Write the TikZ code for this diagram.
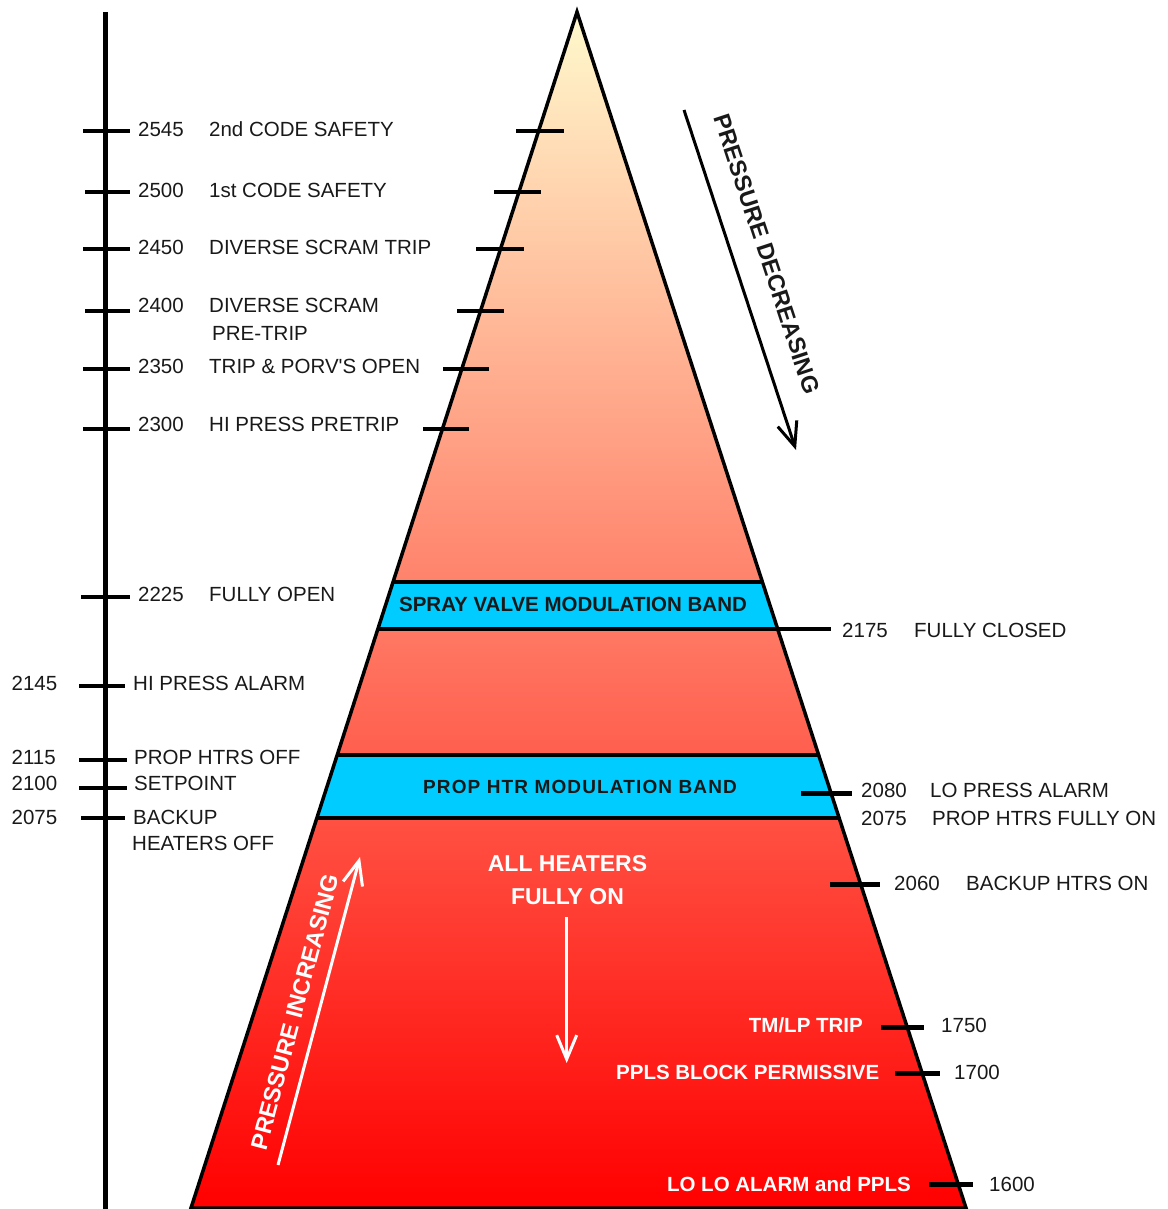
\documentclass[tikz,border=0pt]{standalone}
\usepackage{fontspec}
\setmainfont{Liberation Sans}[Ligatures=TeXOff]
\usetikzlibrary{arrows.meta,calc}

\definecolor{bandcyan}{RGB}{0,204,255}
\definecolor{paleyellow}{RGB}{255,249,205}
\definecolor{hotred}{RGB}{255,0,0}
\definecolor{ink}{RGB}{25,25,25}

\tikzset{
  lbl/.style={anchor=base west, inner sep=0pt, text=ink,
              font=\fontsize{20.5}{24}\selectfont},
  wlbl/.style={anchor=base east, inner sep=0pt, text=white,
               font=\bfseries\fontsize{20.5}{24}\selectfont},
  bandtext/.style={inner sep=0pt, text=ink,
                   font=\bfseries\fontsize{20.5}{24}\selectfont},
  axisline/.style={line width=5pt},
  ltick/.style={line width=4pt},
  rtick/.style={line width=5pt},
  bandline/.style={line width=4pt},
  edge/.style={line width=3.5pt, line join=miter},
  flowarrow/.style={line width=3pt,
                    -{Straight Barb[length=24pt,width=20pt,line width=3pt]}},
  slanttext/.style={inner sep=0pt, font=\bfseries\fontsize{23.5}{26}\selectfont},
}

\begin{document}
\begin{tikzpicture}[x=1pt,y=-1pt]
\useasboundingbox (0,0) rectangle (1167,1209);

% ---- pressure scale on the left
\coordinate (axtop) at (105,12);
\coordinate (axbot) at (105,1215);
\draw[axisline] (axtop) -- (axbot);

\foreach \yy/\xa in {131/83,192/85,249/83,311/85,369/83,429/83,597/81}
  \draw[ltick] (\xa,\yy) -- (130,\yy);
\foreach \yy/\xa/\xb in {686/79/125,760/79/127,788/79/127,818/81/125}
  \draw[ltick] (\xa,\yy) -- (\xb,\yy);

% ---- the pressure triangle
\coordinate (apex) at (577,12);
\coordinate (bl) at (191,1208);
\coordinate (br) at (966,1208);
\shade[top color=paleyellow, bottom color=hotred] (apex) -- (bl) -- (br) -- cycle;

% modulation bands
\fill[bandcyan] (393.0,582) -- (762.4,582) -- (777.7,629) -- (377.9,629) -- cycle;
\fill[bandcyan] (337.2,755) -- (818.7,755) -- (839.2,818) -- (316.9,818) -- cycle;
\draw[bandline] (393.0,582) -- (762.4,582);
\draw[bandline] (377.9,629) -- (831,629);
\draw[bandline] (337.2,755) -- (818.7,755);
\draw[bandline] (316.9,818) -- (839.2,818);

\draw[edge] (apex) -- (bl) -- (br) -- cycle;

% set points across the left flank
\foreach \yy/\xa/\xb in {131/516/564,192/494/541,249/476/524,311/457/504,369/443/489,429/423/469}
  \draw[ltick] (\xa,\yy) -- (\xb,\yy);
% set points across the right flank
\foreach \yy/\xa/\xb in {793/801/852,884/830/880,1027/881/924,1073/895/940,1184/929/973}
  \draw[rtick] (\xa,\yy) -- (\xb,\yy);

% ---- labels, upper left
\node[lbl] (v2545) at (138,136.5) {2545};
\node[lbl] (t2545) at (209,136.5) {2nd CODE SAFETY};
\node[lbl] (v2500) at (138,197.5) {2500};
\node[lbl] (t2500) at (209,197.5) {1st CODE SAFETY};
\node[lbl] (v2450) at (138,254.5) {2450};
\node[lbl] (t2450) at (209,254.5) {DIVERSE SCRAM TRIP};
\node[lbl] (v2400) at (138,312.5) {2400};
\node[lbl] (t2400) at (209,312.5) {DIVERSE SCRAM};
\node[lbl] (t2400b) at (212,340.5) {PRE-TRIP};
\node[lbl] (v2350) at (138,373.5) {2350};
\node[lbl] (t2350) at (209,373.5) {TRIP \& PORV'S OPEN};
\node[lbl] (v2300) at (138,431.5) {2300};
\node[lbl] (t2300) at (209,431.5) {HI PRESS PRETRIP};

% ---- labels, lower left
\node[lbl] (v2225) at (138,601.5) {2225};
\node[lbl] (t2225) at (209,601.5) {FULLY OPEN};
\node[lbl] (v2145) at (11.5,690) {2145};
\node[lbl] (t2145) at (133,690) {HI PRESS ALARM};
\node[lbl] (v2115) at (11.5,764.5) {2115};
\node[lbl] (t2115) at (134,764.5) {PROP HTRS OFF};
\node[lbl] (v2100) at (11.5,790) {2100};
\node[lbl] (t2100) at (134,790) {SETPOINT};
\node[lbl] (v2075l) at (11.5,824.5) {2075};
\node[lbl] (t2075l) at (133,824.5) {BACKUP};
\node[lbl] (t2075lb) at (132,850.5) {HEATERS OFF};

% ---- labels, right
\node[lbl] (v2175) at (842,637) {2175};
\node[lbl] (t2175) at (914,637) {FULLY CLOSED};
\node[lbl] (v2080) at (861,797) {2080};
\node[lbl] (t2080) at (930,797) {LO PRESS ALARM};
\node[lbl] (v2075r) at (861,825) {2075};
\node[lbl] (t2075r) at (932,825) {PROP HTRS FULLY ON};
\node[lbl] (v2060) at (894,890) {2060};
\node[lbl] (t2060) at (966,890) {BACKUP HTRS ON};
\node[lbl] (v1750) at (941,1032.5) {1750};
\node[lbl] (v1700) at (954,1079) {1700};
\node[lbl] (v1600) at (989,1191) {1600};
\node[wlbl] (t1750) at (863,1032.5) {TM/LP TRIP};
\node[wlbl] (t1700) at (879.5,1079) {PPLS BLOCK PERMISSIVE};
\node[wlbl] (t1600) at (911,1191) {LO LO ALARM and PPLS};

% ---- band titles
\node[bandtext] (spray) at (573,604) {SPRAY VALVE MODULATION BAND};
\node[bandtext, font=\bfseries\fontsize{19}{24}\selectfont\addfontfeature{LetterSpace=6}]
  (prophtr) at (580,787) {PROP HTR MODULATION BAND};

% ---- heater state inside the base
\node[inner sep=0pt, align=center, text=white,
      font=\bfseries\fontsize{23}{33}\selectfont] (allon) at (567.5,880) {ALL HEATERS\\FULLY ON};
\coordinate (dnA) at (566.7,917);
\coordinate (dnB) at (566.7,1063);
\draw[flowarrow, white] (dnA) -- (dnB);

% ---- direction of pressure change
\coordinate (decA) at (684,110);
\coordinate (decB) at (796,450);
\draw[flowarrow, black] (decA) -- (decB);
\node[slanttext, rotate=-71.8, text=ink] (dec) at (767,254) {PRESSURE DECREASING};

\coordinate (incA) at (278,1165);
\coordinate (incB) at (360,857);
\draw[flowarrow, white] (incA) -- (incB);
\node[slanttext, rotate=75.1, text=white] (inc) at (295,1012) {PRESSURE INCREASING};

\end{tikzpicture}
\end{document}
